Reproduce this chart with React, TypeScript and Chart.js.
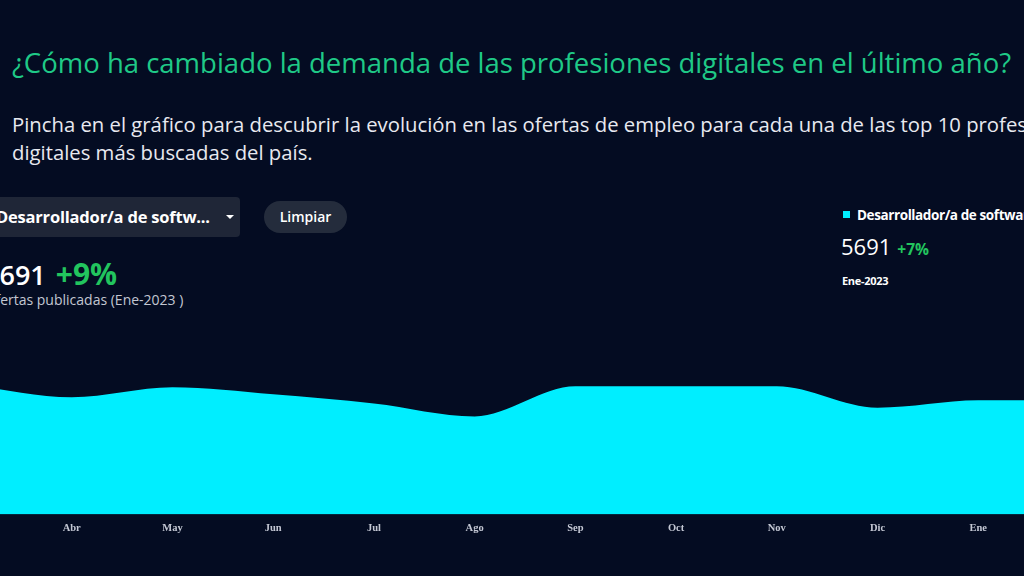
import React, { useEffect, useRef } from "react";
import { Chart, registerables } from "chart.js";

Chart.register(...registerables);

const months = ["Mar", "Abr", "May", "Jun", "Jul", "Ago", "Sep", "Oct", "Nov", "Dic", "Ene", "Feb"];
const offers = [6440, 5840, 6340, 5990, 5540, 4890, 6390, 6390, 6390, 5320, 5691, 5700];
const seriesName = "Desarrollador/a de software";
const yMax = 10000;

const BG = "#040c22";
const CYAN = "#00eeff";
const GREEN = "#22c55e";

function AreaChart() {
  const ref = useRef<HTMLCanvasElement | null>(null);
  useEffect(() => {
    if (!ref.current) return;
    const chart = new Chart(ref.current, {
      type: "line",
      data: {
        labels: months,
        datasets: [
          {
            label: seriesName,
            data: offers,
            fill: "origin",
            backgroundColor: CYAN,
            borderColor: CYAN,
            borderWidth: 0,
            pointRadius: 0,
            cubicInterpolationMode: "monotone",
          },
        ],
      },
      options: {
        animation: false,
        responsive: false,
        maintainAspectRatio: false,
        layout: { padding: { left: 40, right: 40, top: 0, bottom: 0 } },
        plugins: { legend: { display: false }, tooltip: { enabled: false } },
        scales: {
          y: { display: false, min: 0, max: yMax },
          x: {
            offset: false,
            border: { display: false },
            grid: { display: false, drawTicks: false },
            ticks: {
              padding: 8,
              color: "#c4c8d4",
              font: { family: "'Liberation Serif', 'DejaVu Serif', serif", size: 10.5, weight: "bold" },
              maxRotation: 0,
              autoSkip: false,
            },
          },
        },
      },
    });
    return () => chart.destroy();
  }, []);
  return (
    <canvas
      ref={ref}
      width={1188}
      height={229}
      style={{ position: "absolute", left: -69, top: 314, width: 1188, height: 229 }}
    />
  );
}

export default function App() {
  useEffect(() => {
    document.body.style.background = BG;
  }, []);
  const sans = "'Open Sans', 'Noto Sans', sans-serif";
  return (
    <div
      style={{
        position: "fixed",
        left: 0,
        top: 0,
        width: 1024,
        height: 576,
        overflow: "hidden",
        background: BG,
        fontFamily: sans,
      }}
    >
      <div
        style={{
          position: "absolute",
          left: 12,
          top: 45,
          whiteSpace: "nowrap",
          fontSize: 27.5,
          color: "#1fc987",
          lineHeight: "36px",
        }}
      >
        ¿Cómo ha cambiado la demanda de las profesiones digitales en el último año?
      </div>
      <div
        style={{
          position: "absolute",
          left: 12,
          top: 110,
          width: 1120,
          fontSize: 20.3,
          color: "#e8e9f0",
          lineHeight: "28px",
        }}
      >
        Pincha en el gráfico para descubrir la evolución en las ofertas de empleo para cada una de las top 10 profesiones digitales más buscadas del país.
      </div>

      <div
        style={{
          position: "absolute",
          left: -20,
          top: 197,
          width: 260,
          height: 40,
          background: "#1f2637",
          borderRadius: 4,
        }}
      />
      <div
        style={{
          position: "absolute",
          left: -4,
          top: 197,
          height: 40,
          lineHeight: "40px",
          fontSize: 16.5,
          fontWeight: 700,
          color: "#ffffff",
          whiteSpace: "nowrap",
          letterSpacing: -0.2,
        }}
      >
        Desarrollador/a de softw...
      </div>
      <div
        style={{
          position: "absolute",
          left: 226,
          top: 215,
          width: 0,
          height: 0,
          borderLeft: "4px solid transparent",
          borderRight: "4px solid transparent",
          borderTop: "4px solid #ffffff",
        }}
      />
      <div
        style={{
          position: "absolute",
          left: 264,
          top: 201,
          width: 83,
          height: 32,
          borderRadius: 16,
          background: "#242c3c",
          color: "#ffffff",
          fontSize: 14,
          fontWeight: 600,
          lineHeight: "32px",
          textAlign: "center",
        }}
      >
        Limpiar
      </div>

      <div
        style={{
          position: "absolute",
          left: -16,
          top: 255,
          whiteSpace: "nowrap",
          lineHeight: "38px",
        }}
      >
        <span style={{ fontSize: 27, fontWeight: 600, color: "#ffffff" }}>5691</span>
        <span style={{ fontSize: 30, fontWeight: 700, color: GREEN, marginLeft: 10 }}>+9%</span>
      </div>
      <div
        style={{
          position: "absolute",
          left: -13,
          top: 291,
          whiteSpace: "nowrap",
          fontSize: 14,
          color: "#c3c7d2",
          lineHeight: "18px",
        }}
      >
        ofertas publicadas (Ene-2023 )
      </div>

      <div
        style={{
          position: "absolute",
          left: 843,
          top: 211,
          width: 7,
          height: 7,
          background: CYAN,
        }}
      />
      <div
        style={{
          position: "absolute",
          left: 857,
          top: 205,
          whiteSpace: "nowrap",
          fontSize: 13.5,
          fontWeight: 700,
          color: "#ffffff",
          lineHeight: "20px",
          letterSpacing: -0.4,
        }}
      >
        {seriesName}
      </div>
      <div
        style={{
          position: "absolute",
          left: 841,
          top: 231,
          whiteSpace: "nowrap",
          lineHeight: "30px",
        }}
      >
        <span style={{ fontSize: 22, color: "#ffffff" }}>5691</span>
        <span style={{ fontSize: 15.5, fontWeight: 700, color: GREEN, marginLeft: 6 }}>+7%</span>
      </div>
      <div
        style={{
          position: "absolute",
          left: 842,
          top: 273,
          whiteSpace: "nowrap",
          fontSize: 11,
          fontWeight: 700,
          color: "#ffffff",
          lineHeight: "16px",
          letterSpacing: -0.3,
        }}
      >
        Ene-2023
      </div>

      <AreaChart />
    </div>
  );
}
